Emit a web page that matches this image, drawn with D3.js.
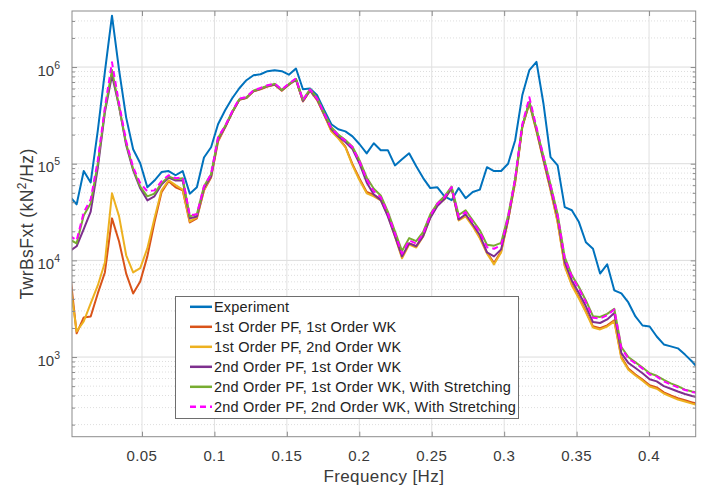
<!DOCTYPE html>
<html>
<head>
<meta charset="utf-8">
<script src="https://cdn.jsdelivr.net/npm/d3@7"></script>
<style>
  html, body { margin: 0; padding: 0; background: #fff; }
  svg { display: block; }
  text { font-family: "Liberation Sans", Arial, Helvetica, sans-serif; }
</style>
</head>
<body>
<svg id="chart" width="705" height="489"></svg>
<script>
// Frequency bins of the spectra [Hz]
const freq = [
  0.0000, 0.0049, 0.0098, 0.0146, 0.0195, 0.0244, 0.0293, 0.0342, 0.0391, 0.0439,
  0.0488, 0.0537, 0.0586, 0.0635, 0.0684, 0.0732, 0.0781, 0.0830, 0.0879, 0.0928,
  0.0977, 0.1025, 0.1074, 0.1123, 0.1172, 0.1221, 0.1270, 0.1318, 0.1367, 0.1416,
  0.1465, 0.1514, 0.1563, 0.1611, 0.1660, 0.1709, 0.1758, 0.1807, 0.1855, 0.1904,
  0.1953, 0.2002, 0.2051, 0.2100, 0.2148, 0.2197, 0.2246, 0.2295, 0.2344, 0.2393,
  0.2441, 0.2490, 0.2539, 0.2588, 0.2637, 0.2686, 0.2734, 0.2783, 0.2832, 0.2881,
  0.2930, 0.2979, 0.3027, 0.3076, 0.3125, 0.3174, 0.3223, 0.3271, 0.3320, 0.3369,
  0.3418, 0.3467, 0.3516, 0.3564, 0.3613, 0.3662, 0.3711, 0.3760, 0.3809, 0.3857,
  0.3906, 0.3955, 0.4004, 0.4053, 0.4102, 0.4150, 0.4199, 0.4248, 0.4297, 0.4346
];

// Tower-base shear force PSD [kN^2/Hz]
const experiment = [
  4.6e4, 3.8e4, 8.4e4, 6.4e4, 2.2e5, 8.9e5, 3.4e6, 9.3e5, 3.0e5, 1.41e5,
  1.01e5, 5.7e4, 6.7e4, 8.2e4, 8.4e4, 7.6e4, 8.4e4, 4.9e4, 5.7e4, 1.16e5,
  1.48e5, 2.56e5, 3.57e5, 4.76e5, 6.04e5, 7.31e5, 8.23e5, 8.43e5, 9.06e5, 9.28e5,
  9.06e5, 8.33e5, 9.65e5, 5.9e5, 6.0e5, 5.1e5, 3.57e5, 2.56e5, 2.27e5, 2.16e5,
  1.92e5, 1.59e5, 1.28e5, 1.63e5, 1.38e5, 1.38e5, 9.6e4, 1.11e5, 1.28e5, 9.4e4,
  7.1e4, 5.6e4, 5.7e4, 4.6e4, 4.2e4, 5.6e4, 4.4e4, 5.1e4, 5.4e4, 9.2e4,
  8.4e4, 8.4e4, 1.0e5, 1.75e5, 5.1e5, 9.3e5, 1.13e6, 4.2e5, 1.17e5, 9.6e4,
  3.56e4, 3.3e4, 2.49e4, 1.54e4, 1.32e4, 7.3e3, 9.1e3, 4.9e3, 4.55e3, 3.67e3,
  2.63e3, 2.12e3, 2.07e3, 1.63e3, 1.35e3, 1.29e3, 1.23e3, 1.06e3, 9.0e2, 7.4e2
];

const pf1wk1 = [
  8.3e3, 1.76e3, 2.57e3, 2.63e3, 4.55e3, 7.5e3, 2.72e4, 1.57e4, 7.3e3, 4.55e3,
  6.06e3, 1.1e4, 2.47e4, 5.06e4, 6.6e4, 5.7e4, 5.3e4, 2.47e4, 2.72e4, 5.3e4,
  7.2e4, 1.7e5, 2.38e5, 3.38e5, 4.58e5, 4.78e5, 5.6e5, 5.9e5, 6.3e5, 6.55e5,
  5.7e5, 6.55e5, 7.4e5, 4.4e5, 5.7e5, 4.55e5, 3.18e5, 2.2e5, 1.86e5, 1.5e5,
  9.9e4, 7.0e4, 5.1e4, 4.75e4, 4.3e4, 3.0e4, 1.83e4, 1.08e4, 1.5e4, 1.4e4,
  1.82e4, 2.85e4, 3.8e4, 4.4e4, 5.65e4, 2.65e4, 2.92e4, 2.32e4, 1.74e4, 1.21e4,
  9.4e3, 1.24e4, 2.62e4, 6.5e4, 2.4e5, 4.25e5, 2.2e5, 1.1e5, 5.4e4, 2.52e4,
  8.9e3, 5.65e3, 4.15e3, 2.98e3, 2.08e3, 1.99e3, 2.13e3, 2.4e3, 1.0e3, 7.6e2,
  6.6e2, 5.85e2, 5.1e2, 4.85e2, 4.32e2, 4.0e2, 3.75e2, 3.57e2, 3.4e2, 3.25e2
];

const pf1wk2 = [
  6.4e3, 1.84e3, 2.34e3, 3.59e3, 5.5e3, 9.5e3, 4.94e4, 2.85e4, 1.13e4, 7.5e3,
  8.3e3, 1.33e4, 2.72e4, 5.3e4, 6.74e4, 6.0e4, 5.4e4, 2.53e4, 2.79e4, 5.3e4,
  7.4e4, 1.75e5, 2.4e5, 3.4e5, 4.6e5, 4.8e5, 5.65e5, 5.95e5, 6.35e5, 6.6e5,
  5.75e5, 6.6e5, 7.45e5, 4.45e5, 5.75e5, 4.6e5, 3.2e5, 2.16e5, 1.83e5, 1.48e5,
  9.6e4, 6.74e4, 4.94e4, 4.6e4, 4.18e4, 2.92e4, 1.77e4, 1.05e4, 1.46e4, 1.36e4,
  1.77e4, 2.79e4, 3.71e4, 4.28e4, 5.57e4, 2.59e4, 2.85e4, 2.25e4, 1.69e4, 1.18e4,
  9.1e3, 1.21e4, 2.59e4, 6.43e4, 2.38e5, 4.2e5, 2.16e5, 1.08e5, 5.3e4, 2.47e4,
  8.7e3, 5.5e3, 4.04e3, 2.9e3, 2.02e3, 1.93e3, 2.07e3, 2.34e3, 9.7e2, 7.4e2,
  6.45e2, 5.7e2, 4.96e2, 4.7e2, 4.2e2, 3.9e2, 3.64e2, 3.47e2, 3.3e2, 3.16e2
];

const pf2wk1 = [
  1.24e4, 1.4e4, 2.1e4, 3.2e4, 9.0e4, 3.4e5, 8.2e5, 3.9e5, 1.55e5, 8.56e4,
  5.57e4, 4.18e4, 4.6e4, 6.1e4, 7.2e4, 6.7e4, 6.7e4, 2.72e4, 2.85e4, 5.57e4,
  7.4e4, 1.79e5, 2.4e5, 3.4e5, 4.6e5, 4.8e5, 5.65e5, 5.95e5, 6.35e5, 6.6e5,
  5.75e5, 6.6e5, 7.45e5, 4.45e5, 5.75e5, 4.65e5, 3.25e5, 2.28e5, 1.92e5, 1.68e5,
  1.42e5, 1.0e5, 6.4e4, 4.8e4, 4.2e4, 2.85e4, 1.78e4, 1.1e4, 1.5e4, 1.4e4,
  1.78e4, 2.75e4, 3.65e4, 4.3e4, 5.6e4, 2.65e4, 3.0e4, 2.35e4, 1.83e4, 1.21e4,
  1.1e4, 1.3e4, 2.65e4, 6.8e4, 2.45e5, 4.35e5, 2.25e5, 1.12e5, 5.6e4, 2.75e4,
  9.6e3, 6.2e3, 4.6e3, 3.35e3, 2.3e3, 2.25e3, 2.45e3, 2.85e3, 1.1e3, 8.7e2,
  7.7e2, 6.8e2, 5.9e2, 5.6e2, 5.0e2, 4.7e2, 4.4e2, 4.15e2, 3.95e2, 3.8e2
];

const pf2wk1Stretch = [
  1.65e4, 1.5e4, 2.92e4, 3.9e4, 1.0e5, 3.57e5, 9.3e5, 3.9e5, 1.62e5, 8.8e4,
  5.8e4, 4.6e4, 4.9e4, 6.3e4, 7.4e4, 6.9e4, 7.07e4, 2.85e4, 3.0e4, 5.84e4,
  7.8e4, 1.85e5, 2.46e5, 3.45e5, 4.65e5, 4.85e5, 5.7e5, 6.0e5, 6.4e5, 6.7e5,
  5.8e5, 6.65e5, 7.5e5, 4.6e5, 5.9e5, 4.8e5, 3.35e5, 2.38e5, 2.0e5, 1.76e5,
  1.5e5, 1.08e5, 7.2e4, 5.5e4, 4.7e4, 3.2e4, 2.0e4, 1.25e4, 1.7e4, 1.58e4,
  1.97e4, 3.0e4, 3.9e4, 4.6e4, 5.8e4, 2.95e4, 3.3e4, 2.6e4, 2.05e4, 1.45e4,
  1.42e4, 1.52e4, 2.9e4, 7.0e4, 2.45e5, 4.35e5, 2.3e5, 1.2e5, 6.1e4, 3.0e4,
  1.08e4, 7.0e3, 5.3e3, 3.85e3, 2.65e3, 2.6e3, 2.8e3, 3.15e3, 1.27e3, 1.0e3,
  8.8e2, 7.8e2, 6.8e2, 6.4e2, 5.8e2, 5.35e2, 5.0e2, 4.6e2, 4.4e2, 4.25e2
];

const pf2wk2Stretch = [
  1.81e4, 1.61e4, 3.14e4, 4.28e4, 1.08e5, 3.83e5, 1.12e6, 4.2e5, 1.71e5, 9.2e4,
  6.28e4, 5.18e4, 5.3e4, 6.6e4, 7.6e4, 7.07e4, 7.2e4, 2.92e4, 3.0e4, 5.84e4,
  7.8e4, 1.88e5, 2.46e5, 3.49e5, 4.72e5, 4.9e5, 5.76e5, 6.08e5, 6.49e5, 6.75e5,
  5.86e5, 6.75e5, 7.62e5, 4.53e5, 5.86e5, 4.72e5, 3.3e5, 2.33e5, 1.97e5, 1.73e5,
  1.48e5, 1.05e5, 6.9e4, 5.2e4, 4.5e4, 3.06e4, 1.9e4, 1.17e4, 1.61e4, 1.49e4,
  1.89e4, 2.92e4, 3.86e4, 4.5e4, 5.74e4, 2.81e4, 3.16e4, 2.49e4, 1.96e4, 1.37e4,
  1.32e4, 1.43e4, 2.79e4, 7.07e4, 2.56e5, 4.86e5, 2.38e5, 1.19e5, 5.98e4, 2.92e4,
  1.05e4, 6.8e3, 5.1e3, 3.7e3, 2.55e3, 2.51e3, 2.7e3, 3.11e3, 1.23e3, 9.7e2,
  8.6e2, 7.6e2, 6.6e2, 6.3e2, 5.6e2, 5.2e2, 4.85e2, 4.56e2, 4.36e2, 4.2e2
];

const seriesNames = [
  "Experiment",
  "1st Order PF, 1st Order WK",
  "1st Order PF, 2nd Order WK",
  "2nd Order PF, 1st Order WK",
  "2nd Order PF, 1st Order WK, With Stretching",
  "2nd Order PF, 2nd Order WK, With Stretching"
];
const seriesValues = [experiment, pf1wk1, pf1wk2, pf2wk1, pf2wk1Stretch, pf2wk2Stretch];
const seriesColors = ["#0072BD", "#D95319", "#EDB120", "#7E2F8E", "#77AC30", "#FF00FF"];
const seriesDash = [null, null, null, null, null, "6,4"];

const xTicks = [0.05, 0.1, 0.15, 0.2, 0.25, 0.3, 0.35, 0.4];
const xTickLabels = ["0.05", "0.1", "0.15", "0.2", "0.25", "0.3", "0.35", "0.4"];
const yTicks = [1e3, 1e4, 1e5, 1e6];
const yTickExponents = ["3", "4", "5", "6"];
const xDomain = [0.0017, 0.4322];
const yDomain = [150, 3.8e6];

// ---- layout ----
const L = 72, R = 695.7, T = 11, B = 436.7;
const svg = d3.select("#chart");
const x = d3.scaleLinear().domain(xDomain).range([L, R]);
const y = d3.scaleLog().domain(yDomain).range([B, T]);

svg.append("rect").attr("width", 705).attr("height", 489).attr("fill", "#fff");
svg.append("rect").attr("x", L).attr("y", T).attr("width", R - L).attr("height", B - T).attr("fill", "#fff");

// minor grid (log decades)
const minorTicks = y.ticks().filter(v => !yTicks.includes(v));
const grid = svg.append("g");
grid.selectAll("line.minor").data(minorTicks).join("line")
  .attr("x1", L).attr("x2", R)
  .attr("y1", d => y(d)).attr("y2", d => y(d))
  .attr("stroke", "#dedede").attr("stroke-width", 1).attr("stroke-dasharray", "1,2");
grid.selectAll("line.ymajor").data(yTicks).join("line")
  .attr("x1", L).attr("x2", R)
  .attr("y1", d => y(d)).attr("y2", d => y(d))
  .attr("stroke", "#dcdcdc").attr("stroke-width", 1);
grid.selectAll("line.xmajor").data(xTicks).join("line")
  .attr("x1", d => x(d)).attr("x2", d => x(d))
  .attr("y1", T).attr("y2", B)
  .attr("stroke", "#e0e0e0").attr("stroke-width", 1);

// curves
svg.append("clipPath").attr("id", "plotClip")
  .append("rect").attr("x", L).attr("y", T).attr("width", R - L).attr("height", B - T);

const line = d3.line().x(d => x(d[0])).y(d => y(d[1]));
const curves = svg.append("g").attr("clip-path", "url(#plotClip)");
seriesValues.forEach((vals, i) => {
  curves.append("path")
    .datum(freq.map((f, j) => [f, vals[j]]))
    .attr("d", line)
    .attr("fill", "none")
    .attr("stroke", seriesColors[i])
    .attr("stroke-width", 2)
    .attr("stroke-linejoin", "round")
    .attr("stroke-dasharray", seriesDash[i]);
});

// axes box and inward ticks
const axisColor = "#8c8c8c";
const axes = svg.append("g");
axes.append("rect").attr("x", L).attr("y", T).attr("width", R - L).attr("height", B - T)
  .attr("fill", "none").attr("stroke", axisColor).attr("stroke-width", 1);

const axB = d3.axisBottom(x).tickValues(xTicks).tickSize(-5).tickFormat("");
const axT = d3.axisTop(x).tickValues(xTicks).tickSize(-5).tickFormat("");
const axL = d3.axisLeft(y).tickValues(yTicks).tickSize(-5).tickFormat("");
const axR = d3.axisRight(y).tickValues(yTicks).tickSize(-5).tickFormat("");
const axLm = d3.axisLeft(y).tickValues(minorTicks).tickSize(-3).tickFormat("");
const axRm = d3.axisRight(y).tickValues(minorTicks).tickSize(-3).tickFormat("");
[[axB, `translate(0,${B})`], [axT, `translate(0,${T})`], [axL, `translate(${L},0)`],
 [axR, `translate(${R},0)`], [axLm, `translate(${L},0)`], [axRm, `translate(${R},0)`]]
  .forEach(([a, tr]) => {
    const g = axes.append("g").attr("transform", tr).call(a);
    g.select(".domain").remove();
    g.selectAll("line").attr("stroke", axisColor);
  });

// tick labels
const labelColor = "#3a3a3a";
svg.append("g").selectAll("text").data(xTicks).join("text")
  .attr("x", d => x(d)).attr("y", B + 24)
  .attr("text-anchor", "middle")
  .attr("font-size", 15).attr("letter-spacing", 0.4)
  .attr("fill", labelColor)
  .text((d, i) => xTickLabels[i]);

const yl = svg.append("g").selectAll("text").data(yTicks).join("text")
  .attr("x", 60).attr("y", d => y(d) + 8.5)
  .attr("text-anchor", "end")
  .attr("font-size", 15)
  .attr("fill", labelColor);
yl.append("tspan").text("10");
yl.append("tspan").attr("font-size", 10.5).attr("dy", -7).text((d, i) => yTickExponents[i]);

// axis titles
svg.append("text")
  .attr("x", (L + R) / 2).attr("y", 482)
  .attr("text-anchor", "middle").attr("font-size", 17).attr("letter-spacing", 0.4)
  .attr("fill", labelColor)
  .text("Frequency [Hz]");

const yt = svg.append("text")
  .attr("transform", `translate(33,${(T + B) / 2}) rotate(-90)`)
  .attr("text-anchor", "middle").attr("font-size", 17.5).attr("letter-spacing", 0.45)
  .attr("fill", labelColor);
yt.append("tspan").text("TwrBsFxt (kN");
yt.append("tspan").attr("font-size", 12).attr("dy", -7).text("2");
yt.append("tspan").attr("dy", 7).text("/Hz)");

// legend
const lg = svg.append("g");
lg.append("rect").attr("x", 175.5).attr("y", 296.5).attr("width", 343).attr("height", 122)
  .attr("fill", "#fff").attr("stroke", "#6e6e6e").attr("stroke-width", 1);
seriesNames.forEach((name, i) => {
  const yy = 306.8 + i * 20;
  lg.append("line").attr("x1", 190).attr("x2", 212).attr("y1", yy).attr("y2", yy)
    .attr("stroke", seriesColors[i]).attr("stroke-width", 2.5)
    .attr("stroke-dasharray", seriesDash[i]);
  lg.append("text").attr("x", 214).attr("y", yy + 5)
    .attr("font-size", 14.5).attr("letter-spacing", 0.2).attr("fill", "#222")
    .text(name);
});
</script>
</body>
</html>
